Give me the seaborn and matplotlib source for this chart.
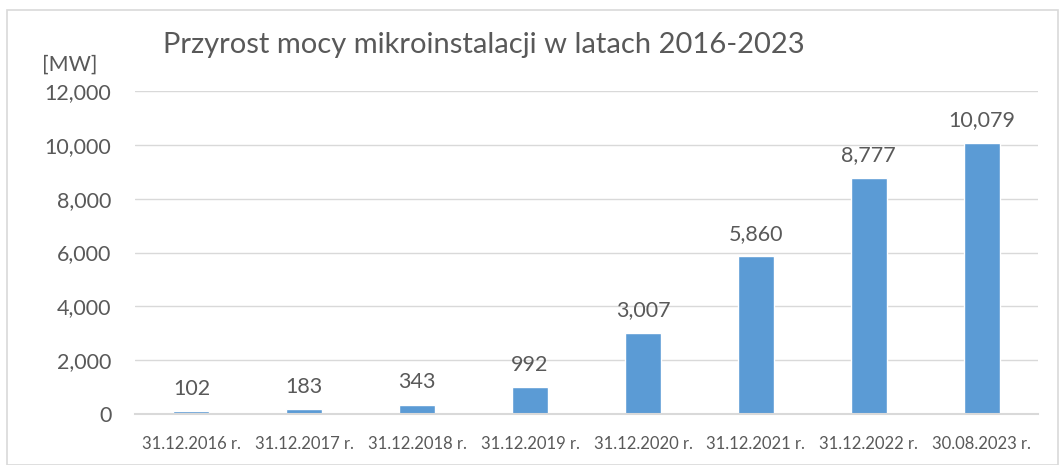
import matplotlib
matplotlib.use("Agg")
import matplotlib.pyplot as plt
import seaborn as sns
import pandas as pd
from matplotlib.patches import Rectangle

categories = ["31.12.2016 r.", "31.12.2017 r.", "31.12.2018 r.", "31.12.2019 r.",
              "31.12.2020 r.", "31.12.2021 r.", "31.12.2022 r.", "30.08.2023 r."]
values = [102, 183, 343, 992, 3007, 5860, 8777, 10079]
yticks = [0, 2000, 4000, 6000, 8000, 10000, 12000]
title = "Przyrost mocy mikroinstalacji w latach 2016-2023"
unit = "[MW]"

sns.set_theme(style="white")
plt.rcParams['font.family'] = ['Lato', 'DejaVu Sans']
txt = "#595959"

df = pd.DataFrame({"cat": categories, "val": values})
fig = plt.figure(figsize=(10.59, 4.65), dpi=100)
ax = fig.add_axes([135/1059, 1-414/465, (1038-135)/1059, (414-91)/465])

sns.barplot(data=df, x="cat", y="val", color="#5b9bd5", width=0.32, ax=ax,
            saturation=1)
ax.set_ylim(0, 12000)
ax.set_xlim(-0.5, len(categories)-0.5)
ax.set_yticks(yticks)
ax.set_yticklabels([f"{v:,}" for v in yticks], fontsize=15.5, color=txt)
ax.tick_params(axis='x', labelsize=12, colors=txt, length=0, pad=16)
ax.tick_params(axis='y', length=0, pad=17)
ax.set_xlabel("")
ax.set_ylabel("")
ax.grid(axis='y', color="#d9d9d9", linewidth=1)
ax.set_axisbelow(True)
for s in ["top", "right", "left"]:
    ax.spines[s].set_visible(False)
ax.spines["bottom"].set_color("#d9d9d9")
ax.spines["bottom"].set_linewidth(1.5)

for c in ax.containers:
    ax.bar_label(c, labels=[f"{v:,}" for v in values], padding=9,
                 fontsize=15.5, color=txt)

fig.text(163/1059, 1-45/465, title, fontsize=21, color=txt, ha="left", va="center")
fig.text(70/1059, 1-65/465, unit, fontsize=15.5, color=txt, ha="center", va="center")

fig.patches.append(Rectangle((7/1059, 0), 1-7/1059-1/1059, 1-10/465,
                             transform=fig.transFigure, fill=False,
                             edgecolor="#d9d9d9", linewidth=1.2))
fig.savefig("out.png", dpi=100)
